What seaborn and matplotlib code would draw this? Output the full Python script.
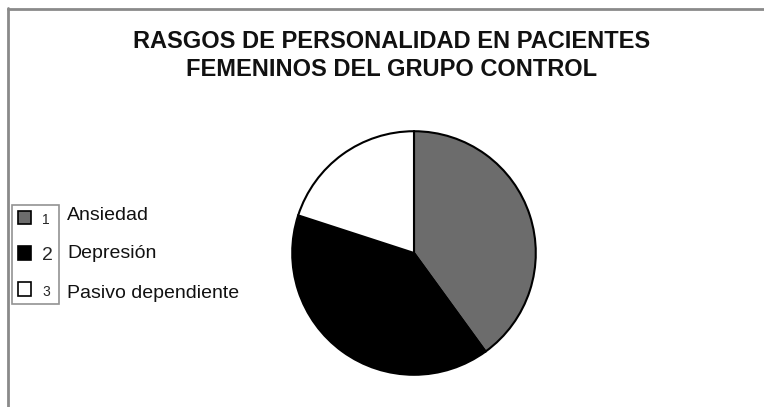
import matplotlib
matplotlib.use("Agg")
import matplotlib.pyplot as plt
import seaborn as sns
from matplotlib.patches import Patch
from matplotlib.lines import Line2D

sns.set_theme(style="white")
plt.rcParams['font.family'] = ['Liberation Sans', 'DejaVu Sans']

# Data
categories = ["Ansiedad", "Depresión", "Pasivo dependiente"]
legend_numbers = ["1", "2", "3"]
values = [40, 40, 20]
colors = ["#6c6c6c", "#000000", "#ffffff"]
title_lines = ["RASGOS DE PERSONALIDAD EN PACIENTES", "FEMENINOS DEL GRUPO CONTROL"]

W, H = 764, 407
fig = plt.figure(figsize=(W / 100, H / 100), dpi=100)
fig.patch.set_facecolor("white")

cx, cy, r = 414, 253, 123
ax = fig.add_axes([(cx - r) / W, (H - cy - r) / H, 2 * r / W, 2 * r / H])
wedges, _ = ax.pie(values, colors=colors, startangle=90, counterclock=False,
                   wedgeprops=dict(edgecolor="black", linewidth=1.5))
ax.set_xlim(-1.01, 1.01)
ax.set_ylim(-1.01, 1.01)
ax.set_aspect("equal")
ax.axis("off")

for line, y in zip(title_lines, [41, 70]):
    fig.text(392 / W, 1 - y / H, line, ha="center", va="center",
             fontsize=17, fontweight="bold", color="#111111")

# Legend box with numbered swatches
handles = [Patch(facecolor=c, edgecolor="black", linewidth=1.2) for c in colors]
leg = fig.legend(handles, legend_numbers, loc="upper left",
                 bbox_to_anchor=(12 / W, 1 - 205 / H), frameon=True,
                 fontsize=14, handlelength=0.7, handleheight=0.7,
                 handletextpad=0.55, labelspacing=0.95, borderpad=0.3,
                 borderaxespad=0, fancybox=False)
leg.get_frame().set_edgecolor("#777777")
leg.get_frame().set_linewidth(1.2)
for i, t in enumerate(leg.get_texts()):
    if i != 1:
        t.set_fontsize(10)

for name, y in zip(categories, [215, 253, 293]):
    fig.text(67 / W, 1 - y / H, name, ha="left", va="center",
             fontsize=14, color="#111111")

# Partial outer frame (left and top)
fig.add_artist(Line2D([8 / W, 8 / W], [0, 1 - 8 / H], transform=fig.transFigure,
                      color="#8a8a8a", linewidth=2))
fig.add_artist(Line2D([8 / W, 1], [1 - 9 / H, 1 - 9 / H], transform=fig.transFigure,
                      color="#8a8a8a", linewidth=2))

fig.savefig("out.png", dpi=100, facecolor="white")
